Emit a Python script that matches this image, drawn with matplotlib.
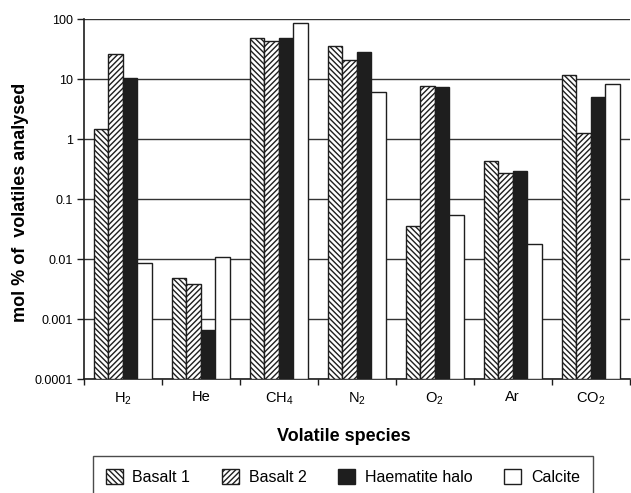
import matplotlib
matplotlib.use('Agg')
import matplotlib.pyplot as plt
import numpy as np

plt.rcParams['font.family'] = ['Liberation Sans', 'DejaVu Sans']
plt.rcParams['mathtext.fontset'] = 'custom'
plt.rcParams['mathtext.rm'] = 'Liberation Sans'
plt.rcParams['mathtext.default'] = 'regular'
plt.rcParams['hatch.linewidth'] = 1.0

# Data (mol %, log scale)
species = ['H$_2$', 'He', 'CH$_4$', 'N$_2$', 'O$_2$', 'Ar', 'CO$_2$']
basalt1 = [1.5, 0.0048, 48, 36, 0.035, 0.43, 11.7]
basalt2 = [26, 0.0037, 44, 20.7, 7.8, 0.27, 1.25]
haematite = [10.5, 0.00057, 48, 28.5, 7.4, 0.30, 5.1]
calcite = [0.0085, 0.0107, 85, 6.2, 0.055, 0.018, 8.3]

series = [
    ('Basalt 1', basalt1, 'white', '\\' * 6),
    ('Basalt 2', basalt2, 'white', '/' * 6),
    ('Haematite halo', haematite, '#1e1e1e', None),
    ('Calcite', calcite, 'white', None),
]

fig = plt.figure(figsize=(6.31, 4.93), dpi=100)
ax = fig.add_axes([0.133, 0.231, 0.865, 0.730])

x = np.arange(len(species))
width = 0.186
for i, (name, vals, color, hatch) in enumerate(series):
    offset = (i - 1.5) * width
    ax.bar(x + offset, vals, width, bottom=0.0001, color=color, edgecolor='#1e1e1e',
           linewidth=1.0, hatch=hatch, label=name, zorder=3)

ax.set_yscale('log')
ax.set_ylim(0.0001, 100)
ax.set_xlim(-0.5, len(species) - 0.5)
ax.set_yticks([0.0001, 0.001, 0.01, 0.1, 1, 10, 100])
ax.set_yticklabels(['0.0001', '0.001', '0.01', '0.1', '1', '10', '100'])
ax.minorticks_off()
ax.yaxis.grid(True, color='#333333', linewidth=1.0, zorder=0)
ax.set_axisbelow(True)

ax.set_xticks(x)
ax.set_xticklabels(species, fontsize=10.5)
ax.set_xticks(np.arange(-0.5, len(species)), minor=True)
ax.tick_params(axis='x', which='major', length=0, pad=8)
ax.tick_params(axis='x', which='minor', length=4, width=1, color='#1e1e1e')
ax.tick_params(axis='y', length=5, width=1, labelsize=9, color='#1e1e1e', pad=3)

for s in ['top', 'right']:
    ax.spines[s].set_visible(False)
for s in ['left', 'bottom']:
    ax.spines[s].set_color('#1e1e1e')
    ax.spines[s].set_linewidth(1.2)

ax.set_ylabel('mol % of  volatiles analysed', fontsize=13, fontweight='bold')
ax.yaxis.set_label_coords(-0.1, 0.49)
ax.set_xlabel('Volatile species', fontsize=13, fontweight='bold')
ax.xaxis.set_label_coords(0.476, -0.135)

# legend frame runs off the bottom edge, as in the reference
leg = fig.legend(loc='upper left', bbox_to_anchor=(93 / 631, 1 - 456 / 493), ncol=4,
                 fontsize=11.5, frameon=True, fancybox=False, edgecolor='#1e1e1e',
                 handlelength=1.06, handleheight=1.06, columnspacing=2.0,
                 handletextpad=0.6, borderpad=0.8, borderaxespad=0)
leg.get_frame().set_linewidth(1.0)

plt.savefig('out.png', dpi=100)
plt.close()
